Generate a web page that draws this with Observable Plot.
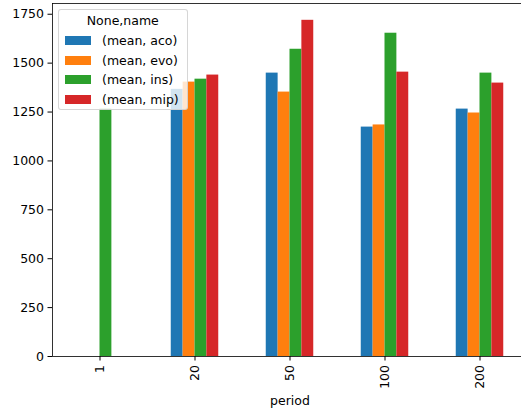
<!DOCTYPE html>
<html>
<head>
<meta charset="utf-8">
<script src="https://cdn.jsdelivr.net/npm/d3@7"></script>
<script src="https://cdn.jsdelivr.net/npm/@observablehq/plot@0.6"></script>
<style>
  html, body { margin: 0; padding: 0; background: #fff; overflow: hidden; }
  #wrap { position: relative; width: 521px; height: 414px; overflow: hidden; font-family: "DejaVu Sans", sans-serif; }
  #wrap svg { max-width: none !important; width: 527px; height: 414px; }
  #legend {
    position: absolute; left: 58px; top: 9px; width: 129.5px; height: 100.5px;
    box-sizing: border-box; background: rgba(255,255,255,0.8);
    border: 1px solid rgba(204,204,204,0.8); border-radius: 3px;
    font-size: 12.5px; color: #000;
  }
  #legend .title { position: absolute; left: 0; right: 0; top: 1px; height: 19px; line-height: 19px; text-align: center; }
  #legend .row { position: absolute; left: 0; height: 19.5px; display: flex; align-items: center; white-space: nowrap; }
  #legend .sw { width: 26px; height: 9px; margin-left: 5.5px; margin-right: 11.5px; }
</style>
</head>
<body>
<div id="wrap"></div>
<script>
// Mean score per period for each method (no runs for aco/evo/mip at period 1)
const periods = ["1", "20", "50", "100", "200"];
const series = ["aco", "evo", "ins", "mip"];
const aco = [null, 1366, 1449, 1173, 1265];
const evo = [null, 1403, 1352, 1184, 1245];
const ins = [1265, 1418, 1571, 1653, 1449];
const mip = [null, 1439, 1719, 1454, 1398];
const yTicks = [0, 250, 500, 750, 1000, 1250, 1500, 1750];
const palette = ["#1f77b4", "#ff7f0e", "#2ca02c", "#d62728"];

const columns = [aco, evo, ins, mip];
const groupWidth = 0.5;                 // share of each period slot taken by its bars
const barWidth = groupWidth / series.length;

const rows = [];
columns.forEach((vals, j) => {
  vals.forEach((v, i) => {
    if (v == null) return;
    const x1 = i - groupWidth / 2 + j * barWidth;
    rows.push({period: periods[i], name: series[j], value: v, x1, x2: x1 + barWidth});
  });
});

const yMax = d3.max(rows, d => d.value) * 1.05;

const chart = Plot.plot({
  width: 527,
  height: 414,
  marginLeft: 52,
  marginRight: 0,
  marginTop: 3,
  marginBottom: 58,
  style: {fontFamily: "DejaVu Sans, sans-serif", fontSize: "12.5px", color: "#000", background: "#fff", overflow: "hidden", maxWidth: "none"},
  x: {domain: [-0.5, periods.length - 0.5]},
  y: {domain: [0, yMax]},
  color: {domain: series, range: palette},
  marks: [
    Plot.rectY(rows, {x1: "x1", x2: "x2", y: "value", fill: "name", inset: 0}),
    Plot.axisY({ticks: yTicks, tickSize: 4.5, tickPadding: 4, tickFormat: d => String(d), label: null, stroke: "#000"}),
    Plot.axisX({
      ticks: d3.range(periods.length),
      tickFormat: i => periods[i],
      tickRotate: -90,
      tickSize: 4.5,
      tickPadding: 4,
      label: "period",
      labelAnchor: "center",
      labelArrow: false,
      labelOffset: 48,
      stroke: "#000"
    }),
    Plot.frame({stroke: "#000", strokeWidth: 0.8})
  ]
});

const wrap = document.getElementById("wrap");
wrap.appendChild(chart);

// Legend box laid over the upper-left of the axes
const legend = document.createElement("div");
legend.id = "legend";
const title = document.createElement("div");
title.className = "title";
title.textContent = "None,name";
legend.appendChild(title);
series.forEach((name, j) => {
  const row = document.createElement("div");
  row.className = "row";
  row.style.top = (21 + j * 19.5) + "px";
  const sw = document.createElement("span");
  sw.className = "sw";
  sw.style.background = palette[j];
  const label = document.createElement("span");
  label.textContent = `(mean, ${name})`;
  row.appendChild(sw);
  row.appendChild(label);
  legend.appendChild(row);
});
wrap.appendChild(legend);
</script>
</body>
</html>
